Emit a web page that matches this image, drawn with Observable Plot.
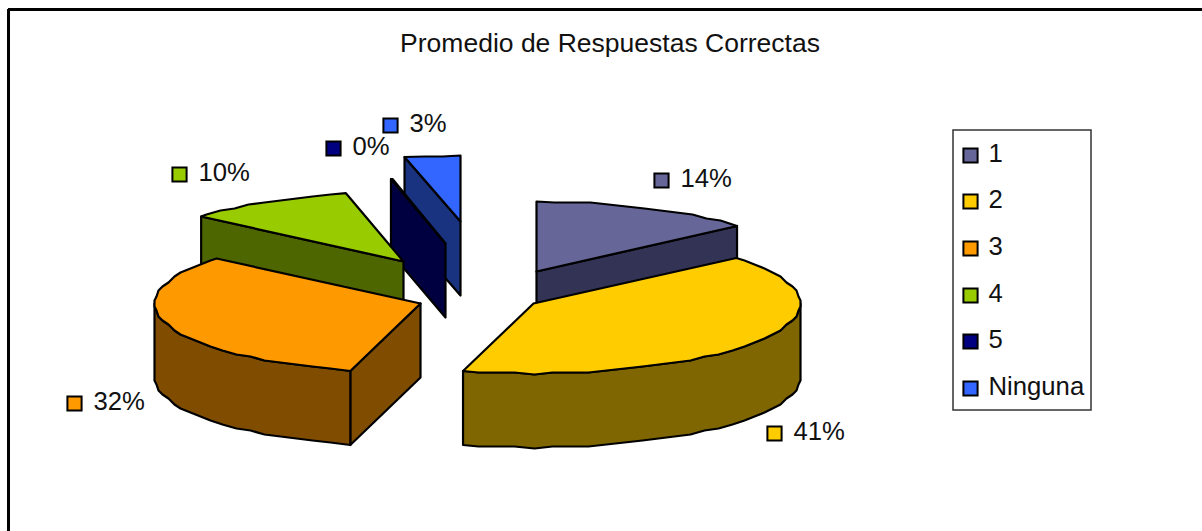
<!DOCTYPE html>
<html>
<head>
<meta charset="utf-8">
<script src="https://cdn.jsdelivr.net/npm/d3@7"></script>
<script src="https://cdn.jsdelivr.net/npm/@observablehq/plot@0.6"></script>
<style>
html,body{margin:0;padding:0;background:#fff;overflow:hidden}
svg{display:block}
</style>
</head>
<body>
<div id="chart"></div>
<script>
// --- data ---
const title = "Promedio de Respuestas Correctas";
const categories = ["1", "2", "3", "4", "5", "Ninguna"];
const shares = [13.73, 40.52, 31.85, 10.4, 0.1, 3.4]; // percent

// --- styles ---
const topColors = ["#666699", "#ffcc00", "#ff9900", "#99cc00", "#000080", "#3366ff"];
const wallColors = ["#333355", "#806600", "#804d00", "#4d6600", "#000040", "#1a3380"];

// --- layout (exploded 3D pie) ---
const radiusX = [264, 267, 266, 264, 250, 264];
const radiusY = [70, 70, 70, 70, 66, 66];
const depth = 74, arcStep = 4, rimGrid = 2;
const apexX = [536, 533, 420, 403, 445, 460];
const apexY = [271, 303, 303, 261, 243, 221];
const labelX = [661, 774, 74, 179, 333, 390];
const labelY = [180, 433, 403, 174, 148, 125];
const legendY = [155, 201, 248, 295, 341, 388];
const legendBox = {x1: 953, x2: 1091, y1: 130, y2: 410};

// --- geometry, derived from the shares ---
const rad = d => d * Math.PI / 180;
const polys = [];
let polyId = 0;
function addPoly(points, fill) {
  const id = polyId++;
  for (const [x, y] of [...points, points[0]]) polys.push({id, x, y, fill});
}
function rimPoint(i, deg) {
  const a = rad(deg);
  return [apexX[i] + radiusX[i] * Math.sin(a), apexY[i] - radiusY[i] * Math.cos(a)];
}
function arc(i, a0, a1) {
  // end points are exact; interior vertices sit at fixed angles, snapped to a coarse grid,
  // so that the top face and its wall share one slightly stepped rim
  const pts = [rimPoint(i, a0)];
  for (let d = Math.floor(a0 / arcStep + 1) * arcStep; d < a1 - 1; d += arcStep) {
    if (d - a0 < 1) continue;
    const [x, y] = rimPoint(i, d);
    pts.push([Math.round(x / rimGrid) * rimGrid, Math.round(y / rimGrid) * rimGrid]);
  }
  pts.push(rimPoint(i, a1));
  return pts;
}
const drop = pts => pts.map(([x, y]) => [x, y + depth]);
function extrude(pts, fill) { addPoly([...pts, ...drop(pts).reverse()], fill); }

let running = 0;
const slices = shares.map((s, i) => {
  const a0 = running * 3.6;
  running += s;
  return {i, a0, a1: running * 3.6};
});
const order = [5, 4, 3, 0, 2, 1];
for (const i of order) {
  const {a0, a1} = slices[i];
  const apex = [apexX[i], apexY[i]];
  // walls facing the viewer
  if (a0 > 180 && a0 < 360) extrude([apex, rimPoint(i, a0)], wallColors[i]);
  if (a1 > 0 && a1 < 180) extrude([apex, rimPoint(i, a1)], wallColors[i]);
  const r0 = Math.max(a0, 90), r1 = Math.min(a1, 270);
  if (r1 > r0) extrude(arc(i, r0, r1), wallColors[i]);
  // top face
  if (a1 > a0) addPoly([apex, ...arc(i, a0, a1)], topColors[i]);
}

const dataLabels = shares.map((s, i) => ({
  x: labelX[i], y: labelY[i], fill: topColors[i], text: d3.format(".0f")(s) + "%"
}));
const legendItems = categories.map((c, i) => ({
  x: legendBox.x1 + 17, y: legendY[i], fill: topColors[i], text: c
}));
const font = "Liberation Sans";

const plot = Plot.plot({
  width: 1202, height: 531,
  marginTop: 0, marginRight: 0, marginBottom: 0, marginLeft: 0,
  x: {domain: [0, 1202], range: [0, 1202], axis: null},
  y: {domain: [0, 531], range: [0, 531], axis: null},
  color: {type: "identity"},
  style: {background: "#fff", fontFamily: font},
  marks: [
    Plot.ruleY([9], {x1: 8, x2: 1202, stroke: "#000", strokeWidth: 3}),
    Plot.ruleX([8], {y1: 9, y2: 531, stroke: "#000", strokeWidth: 3}),
    Plot.text([title], {x: () => 609.5, y: () => 43, text: d => d, fontSize: 26.5, fill: "#111"}),
    Plot.line(polys, {x: "x", y: "y", z: "id", fill: "fill", stroke: "#000", strokeWidth: 2.2, curve: "linear", strokeLinejoin: "round"}),
    Plot.dot(dataLabels, {x: "x", y: "y", fill: "fill", stroke: "#000", strokeWidth: 2, symbol: "square", r: 8}),
    Plot.text(dataLabels, {x: d => d.x + 19, y: "y", dy: -1.5, text: "text", textAnchor: "start", fontSize: 25.7, fill: "#111"}),
    Plot.rect([legendBox], {x1: "x1", x2: "x2", y1: "y1", y2: "y2", fill: "#fff", stroke: "#333", strokeWidth: 1.5}),
    Plot.dot(legendItems, {x: "x", y: "y", fill: "fill", stroke: "#000", strokeWidth: 2, symbol: "square", r: 8}),
    Plot.text(legendItems, {x: d => d.x + 18, y: "y", dy: -1.5, text: "text", textAnchor: "start", fontSize: 25.7, fill: "#111"})
  ]
});
document.getElementById("chart").appendChild(plot);
</script>
</body>
</html>
